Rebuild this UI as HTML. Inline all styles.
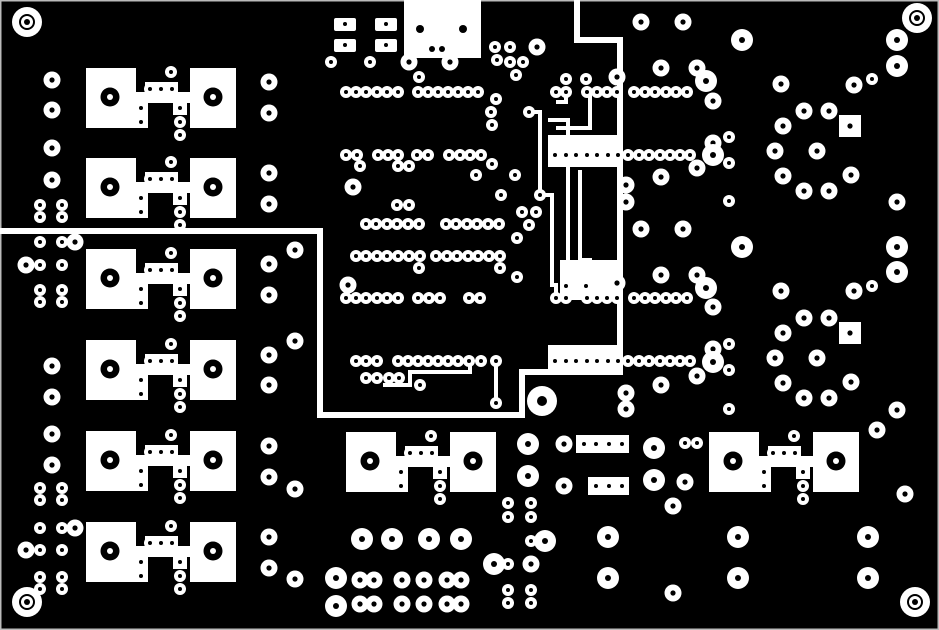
<!DOCTYPE html><html><head><style>html,body{margin:0;padding:0;background:#000}svg{display:block}</style></head><body>
<svg width="939" height="630" viewBox="0 0 939 630" xmlns="http://www.w3.org/2000/svg" xmlns:xlink="http://www.w3.org/1999/xlink">
<defs>
<g id="a"><circle r="6" fill="#fff"/><circle r="2" fill="#000"/></g>
<g id="b"><circle r="8.5" fill="#fff"/><circle r="2.6" fill="#000"/></g>
<g id="c"><circle r="11" fill="#fff"/><circle r="3" fill="#000"/></g>
<g id="f"><circle r="15" fill="#fff"/><circle r="8" fill="#000"/><circle r="6" fill="#fff"/><circle r="3" fill="#000"/></g>
<g id="m">
<rect x="0" y="0" width="50" height="60" fill="#fff"/><rect x="104" y="0" width="46" height="60" fill="#fff"/>
<rect x="46" y="24" width="62" height="11" fill="#fff"/><rect x="59" y="14" width="33" height="15" fill="#fff"/>
<rect x="49" y="35" width="13" height="25" fill="#fff"/><rect x="87" y="35" width="14" height="12" fill="#fff"/>
<circle cx="24" cy="29" r="9.5" fill="#000"/><circle cx="24" cy="29" r="3" fill="#fff"/>
<circle cx="127" cy="29" r="9.5" fill="#000"/><circle cx="127" cy="29" r="3" fill="#fff"/>
<use href="#a" x="85" y="4"/><use href="#a" x="64" y="21"/><use href="#a" x="75" y="21"/><use href="#a" x="86" y="21"/>
<use href="#a" x="55" y="40"/><use href="#a" x="55" y="54"/><use href="#a" x="94" y="40"/><use href="#a" x="94" y="54"/><use href="#a" x="94" y="67"/>
</g>
<g id="ring">
<use href="#b" x="-34" y="-25"/><use href="#b" x="-13" y="-40"/><use href="#b" x="12" y="-40"/>
<rect x="22" y="-36" width="22" height="22" fill="#fff"/><circle cx="33" cy="-25" r="2.6" fill="#000"/>
<use href="#b" x="-42" y="0"/><use href="#b" x="0" y="0"/><use href="#b" x="-34" y="25"/><use href="#b" x="-13" y="40"/><use href="#b" x="12" y="40"/><use href="#b" x="34" y="24"/>
</g>
</defs>
<rect width="939" height="630" fill="#000"/>
<rect x="0.5" y="0.5" width="938" height="629" fill="none" stroke="#bbb" stroke-width="2"/>
<!-- white border trace -->
<polyline points="0,231 320,231 320,415 522,415 522,372 620,372 620,40 577,40 577,0" fill="none" stroke="#fff" stroke-width="6"/>
<!-- inner traces -->
<g fill="none" stroke="#fff" stroke-width="4">
<polyline points="530,112 540,112 540,195 552,195 552,285 556,285 556,298"/>
<polyline points="548,120 568,120 568,270 574,270 574,298"/>
<polyline points="556,102 566,102 566,92"/>
<polyline points="556,128 590,128 590,92"/>
<polyline points="580,170 580,260 590,260 590,298"/>
<polyline points="383,385 410,385 410,372 470,372 470,361"/>
<polyline points="496,361 496,403"/>
</g>
<rect x="548" y="135" width="72" height="32" fill="#fff"/>
<rect x="560" y="260" width="60" height="40" fill="#fff"/>
<rect x="548" y="345" width="72" height="27" fill="#fff"/>
<!-- modules -->
<use href="#m" x="86" y="68"/><use href="#m" x="86" y="158"/><use href="#m" x="86" y="249"/>
<use href="#m" x="86" y="340"/><use href="#m" x="86" y="431"/><use href="#m" x="86" y="522"/>
<use href="#m" x="346" y="432"/><use href="#m" x="709" y="432"/>
<!-- fiducials -->
<use href="#f" x="27" y="22"/><use href="#f" x="917" y="18"/><use href="#f" x="27" y="602"/><use href="#f" x="915" y="602"/>
<!-- left column -->
<g>
<use href="#b" x="52" y="80"/><use href="#b" x="52" y="110"/><use href="#b" x="52" y="148"/><use href="#b" x="52" y="180"/>
<use href="#b" x="52" y="366"/><use href="#b" x="52" y="397"/><use href="#b" x="52" y="434"/><use href="#b" x="52" y="465"/>
<use href="#a" x="40" y="205"/><use href="#a" x="62" y="205"/><use href="#a" x="40" y="217"/><use href="#a" x="62" y="217"/>
<use href="#a" x="40" y="242"/><use href="#a" x="62" y="242"/><use href="#b" x="75" y="242"/>
<use href="#b" x="26" y="265"/><use href="#a" x="40" y="265"/><use href="#a" x="62" y="265"/>
<use href="#a" x="40" y="290"/><use href="#a" x="62" y="290"/><use href="#a" x="40" y="302"/><use href="#a" x="62" y="302"/>
<use href="#a" x="40" y="488"/><use href="#a" x="62" y="488"/><use href="#a" x="40" y="500"/><use href="#a" x="62" y="500"/>
<use href="#a" x="40" y="528"/><use href="#a" x="62" y="528"/><use href="#b" x="75" y="528"/>
<use href="#b" x="26" y="550"/><use href="#a" x="40" y="550"/><use href="#a" x="62" y="550"/>
<use href="#a" x="40" y="577"/><use href="#a" x="62" y="577"/><use href="#a" x="40" y="589"/><use href="#a" x="62" y="589"/>
<use href="#b" x="269" y="82"/><use href="#b" x="269" y="113"/><use href="#b" x="269" y="173"/><use href="#b" x="269" y="204"/>
<use href="#b" x="269" y="264"/><use href="#b" x="269" y="295"/><use href="#b" x="269" y="355"/><use href="#b" x="269" y="385"/>
<use href="#b" x="269" y="446"/><use href="#b" x="269" y="477"/><use href="#b" x="269" y="537"/><use href="#b" x="269" y="568"/>
<use href="#b" x="295" y="250"/><use href="#b" x="295" y="341"/><use href="#b" x="295" y="489"/><use href="#b" x="295" y="579"/>
</g>
<!-- top middle -->
<rect x="404" y="0" width="77" height="58" fill="#fff"/>
<circle cx="420" cy="29" r="4" fill="#000"/><circle cx="463" cy="29" r="4" fill="#000"/><circle cx="432" cy="49" r="3" fill="#000"/><circle cx="442" cy="49" r="3" fill="#000"/>
<g fill="#fff"><rect x="334" y="18" width="22" height="13" rx="2"/><rect x="375" y="18" width="22" height="13" rx="2"/><rect x="334" y="39" width="22" height="13" rx="2"/><rect x="375" y="39" width="22" height="13" rx="2"/></g>
<g fill="#000"><circle cx="345" cy="24" r="2"/><circle cx="386" cy="24" r="2"/><circle cx="345" cy="45" r="2"/><circle cx="386" cy="45" r="2"/></g>
<g>
<use href="#a" x="331" y="62"/><use href="#a" x="370" y="62"/><use href="#b" x="409" y="62"/><use href="#b" x="450" y="62"/><use href="#a" x="419" y="77"/>
<use href="#a" x="495" y="47"/><use href="#a" x="510" y="47"/><use href="#a" x="497" y="60"/><use href="#a" x="510" y="62"/><use href="#a" x="523" y="62"/><use href="#a" x="516" y="75"/><use href="#b" x="537" y="47"/>
<!-- row 92 -->
<use href="#a" x="346" y="92"/><use href="#a" x="356" y="92"/><use href="#a" x="366" y="92"/><use href="#a" x="377" y="92"/><use href="#a" x="387" y="92"/><use href="#a" x="398" y="92"/>
<use href="#a" x="418" y="92"/><use href="#a" x="428" y="92"/><use href="#a" x="438" y="92"/><use href="#a" x="448" y="92"/><use href="#a" x="458" y="92"/><use href="#a" x="468" y="92"/><use href="#a" x="478" y="92"/>
<use href="#a" x="496" y="99"/><use href="#a" x="491" y="112"/><use href="#a" x="492" y="125"/><use href="#a" x="529" y="112"/>
<!-- row 155 -->
<use href="#a" x="346" y="155"/><use href="#a" x="357" y="155"/><use href="#a" x="378" y="155"/><use href="#a" x="388" y="155"/><use href="#a" x="398" y="155"/>
<use href="#a" x="417" y="155"/><use href="#a" x="428" y="155"/><use href="#a" x="449" y="155"/><use href="#a" x="460" y="155"/><use href="#a" x="470" y="155"/><use href="#a" x="481" y="155"/>
<use href="#a" x="360" y="166"/><use href="#a" x="398" y="166"/><use href="#a" x="409" y="166"/><use href="#a" x="492" y="164"/>
<use href="#a" x="476" y="175"/><use href="#a" x="515" y="175"/><use href="#b" x="353" y="187"/>
<use href="#a" x="501" y="195"/><use href="#a" x="540" y="195"/><use href="#a" x="397" y="205"/><use href="#a" x="409" y="205"/>
<!-- row 224 -->
<use href="#a" x="366" y="224"/><use href="#a" x="376" y="224"/><use href="#a" x="387" y="224"/><use href="#a" x="397" y="224"/><use href="#a" x="408" y="224"/><use href="#a" x="419" y="224"/>
<use href="#a" x="446" y="224"/><use href="#a" x="456" y="224"/><use href="#a" x="467" y="224"/><use href="#a" x="477" y="224"/><use href="#a" x="488" y="224"/><use href="#a" x="499" y="224"/>
<use href="#a" x="522" y="212"/><use href="#a" x="536" y="212"/><use href="#a" x="529" y="225"/><use href="#a" x="517" y="238"/>
<!-- row 256 -->
<use href="#a" x="356" y="256"/><use href="#a" x="366" y="256"/><use href="#a" x="377" y="256"/><use href="#a" x="387" y="256"/><use href="#a" x="398" y="256"/><use href="#a" x="409" y="256"/><use href="#a" x="420" y="256"/>
<use href="#a" x="436" y="256"/><use href="#a" x="447" y="256"/><use href="#a" x="457" y="256"/><use href="#a" x="468" y="256"/><use href="#a" x="478" y="256"/><use href="#a" x="489" y="256"/><use href="#a" x="500" y="256"/>
<use href="#a" x="419" y="268"/><use href="#a" x="500" y="268"/><use href="#a" x="517" y="277"/><use href="#b" x="348" y="285"/>
<!-- row 298 -->
<use href="#a" x="346" y="298"/><use href="#a" x="356" y="298"/><use href="#a" x="366" y="298"/><use href="#a" x="377" y="298"/><use href="#a" x="387" y="298"/><use href="#a" x="398" y="298"/>
<use href="#a" x="418" y="298"/><use href="#a" x="429" y="298"/><use href="#a" x="440" y="298"/><use href="#a" x="469" y="298"/><use href="#a" x="480" y="298"/>
<!-- row 361 -->
<use href="#a" x="356" y="361"/><use href="#a" x="366" y="361"/><use href="#a" x="377" y="361"/>
<use href="#a" x="398" y="361"/><use href="#a" x="408" y="361"/><use href="#a" x="418" y="361"/><use href="#a" x="428" y="361"/><use href="#a" x="438" y="361"/><use href="#a" x="448" y="361"/><use href="#a" x="458" y="361"/><use href="#a" x="469" y="361"/><use href="#a" x="481" y="361"/><use href="#a" x="496" y="361"/>
<use href="#a" x="366" y="378"/><use href="#a" x="377" y="378"/><use href="#a" x="389" y="378"/><use href="#a" x="399" y="378"/><use href="#a" x="420" y="385"/><use href="#a" x="496" y="403"/>
</g>
<!-- right IC area -->
<g>
<use href="#a" x="566" y="79"/><use href="#a" x="586" y="79"/><use href="#b" x="617" y="77"/>
<use href="#a" x="556" y="92"/><use href="#a" x="566" y="92"/><use href="#a" x="587" y="92"/><use href="#a" x="597" y="92"/><use href="#a" x="607" y="92"/><use href="#a" x="617" y="92"/>
<use href="#a" x="634" y="92"/><use href="#a" x="645" y="92"/><use href="#a" x="655" y="92"/><use href="#a" x="666" y="92"/><use href="#a" x="676" y="92"/><use href="#a" x="687" y="92"/>
<use href="#a" x="555" y="155"/><use href="#a" x="566" y="155"/><use href="#a" x="576" y="155"/><use href="#a" x="587" y="155"/><use href="#a" x="597" y="155"/><use href="#a" x="608" y="155"/><use href="#a" x="618" y="155"/><use href="#a" x="628" y="155"/><use href="#a" x="639" y="155"/><use href="#a" x="649" y="155"/><use href="#a" x="660" y="155"/><use href="#a" x="670" y="155"/><use href="#a" x="680" y="155"/><use href="#a" x="690" y="155"/>
<use href="#a" x="566" y="286"/><use href="#a" x="586" y="286"/><use href="#b" x="617" y="283"/>
<use href="#a" x="556" y="298"/><use href="#a" x="566" y="298"/><use href="#a" x="587" y="298"/><use href="#a" x="597" y="298"/><use href="#a" x="607" y="298"/><use href="#a" x="617" y="298"/>
<use href="#a" x="634" y="298"/><use href="#a" x="645" y="298"/><use href="#a" x="655" y="298"/><use href="#a" x="666" y="298"/><use href="#a" x="676" y="298"/><use href="#a" x="687" y="298"/>
<use href="#a" x="555" y="361"/><use href="#a" x="566" y="361"/><use href="#a" x="576" y="361"/><use href="#a" x="587" y="361"/><use href="#a" x="597" y="361"/><use href="#a" x="608" y="361"/><use href="#a" x="618" y="361"/><use href="#a" x="628" y="361"/><use href="#a" x="639" y="361"/><use href="#a" x="649" y="361"/><use href="#a" x="660" y="361"/><use href="#a" x="670" y="361"/><use href="#a" x="680" y="361"/><use href="#a" x="690" y="361"/>
<use href="#b" x="641" y="22"/><use href="#b" x="683" y="22"/><use href="#c" x="742" y="40"/>
<use href="#b" x="661" y="68"/><use href="#b" x="697" y="68"/><use href="#c" x="706" y="81"/><use href="#b" x="713" y="101"/>
<use href="#b" x="713" y="143"/><use href="#a" x="729" y="137"/><use href="#c" x="713" y="155"/><use href="#a" x="729" y="163"/><use href="#b" x="697" y="168"/>
<use href="#b" x="661" y="177"/><use href="#b" x="626" y="185"/><use href="#b" x="626" y="202"/><use href="#a" x="729" y="201"/>
<use href="#b" x="641" y="229"/><use href="#b" x="683" y="229"/><use href="#c" x="742" y="247"/>
<use href="#b" x="661" y="275"/><use href="#b" x="697" y="275"/><use href="#c" x="706" y="288"/><use href="#b" x="713" y="307"/>
<use href="#b" x="713" y="349"/><use href="#a" x="729" y="344"/><use href="#c" x="713" y="362"/><use href="#a" x="729" y="370"/><use href="#b" x="697" y="376"/>
<use href="#b" x="661" y="385"/><use href="#b" x="626" y="393"/><use href="#b" x="626" y="409"/><use href="#a" x="729" y="409"/>
<use href="#ring" x="817" y="151"/><use href="#ring" x="817" y="358"/>
<use href="#c" x="897" y="40"/><use href="#c" x="897" y="66"/><use href="#a" x="872" y="79"/><use href="#b" x="854" y="85"/><use href="#b" x="781" y="84"/>
<use href="#b" x="897" y="202"/><use href="#b" x="781" y="291"/><use href="#b" x="854" y="291"/><use href="#a" x="872" y="286"/>
<use href="#c" x="897" y="247"/><use href="#c" x="897" y="272"/><use href="#b" x="897" y="410"/><use href="#b" x="877" y="430"/><use href="#b" x="905" y="494"/>
</g>
<!-- bottom middle -->
<g>
<circle cx="542" cy="401" r="15" fill="#fff"/><circle cx="542" cy="401" r="5" fill="#000"/>
<use href="#c" x="528" y="444"/><use href="#c" x="528" y="476"/>
<use href="#b" x="564" y="444"/><rect x="576" y="435" width="53" height="18" fill="#fff"/>
<use href="#a" x="584" y="444"/><use href="#a" x="596" y="444"/><use href="#a" x="609" y="444"/><use href="#a" x="622" y="444"/>
<use href="#b" x="564" y="486"/><rect x="588" y="477" width="41" height="18" fill="#fff"/>
<use href="#a" x="596" y="486"/><use href="#a" x="609" y="486"/><use href="#a" x="622" y="486"/>
<use href="#c" x="654" y="448"/><use href="#c" x="654" y="480"/><use href="#a" x="685" y="443"/><use href="#a" x="697" y="443"/><use href="#b" x="685" y="482"/><use href="#b" x="673" y="506"/>
<use href="#c" x="608" y="537"/><use href="#c" x="608" y="578"/><use href="#c" x="738" y="537"/><use href="#c" x="738" y="578"/><use href="#c" x="868" y="537"/><use href="#c" x="868" y="578"/><use href="#b" x="673" y="593"/>
<use href="#a" x="508" y="503"/><use href="#a" x="531" y="503"/><use href="#a" x="508" y="517"/><use href="#a" x="531" y="517"/>
<use href="#c" x="362" y="539"/><use href="#c" x="392" y="539"/><use href="#c" x="429" y="539"/><use href="#c" x="461" y="539"/>
<use href="#c" x="545" y="541"/><use href="#a" x="531" y="541"/>
<use href="#c" x="494" y="564"/><use href="#a" x="508" y="564"/><use href="#b" x="531" y="564"/>
<use href="#c" x="336" y="578"/><use href="#b" x="360" y="580"/><use href="#b" x="374" y="580"/><use href="#b" x="402" y="580"/><use href="#b" x="424" y="580"/><use href="#b" x="447" y="580"/><use href="#b" x="461" y="580"/>
<use href="#c" x="336" y="606"/><use href="#b" x="360" y="604"/><use href="#b" x="374" y="604"/><use href="#b" x="402" y="604"/><use href="#b" x="424" y="604"/><use href="#b" x="447" y="604"/><use href="#b" x="461" y="604"/>
<use href="#a" x="508" y="590"/><use href="#a" x="531" y="590"/><use href="#a" x="508" y="603"/><use href="#a" x="531" y="603"/>
</g>
</svg>
</body></html>
